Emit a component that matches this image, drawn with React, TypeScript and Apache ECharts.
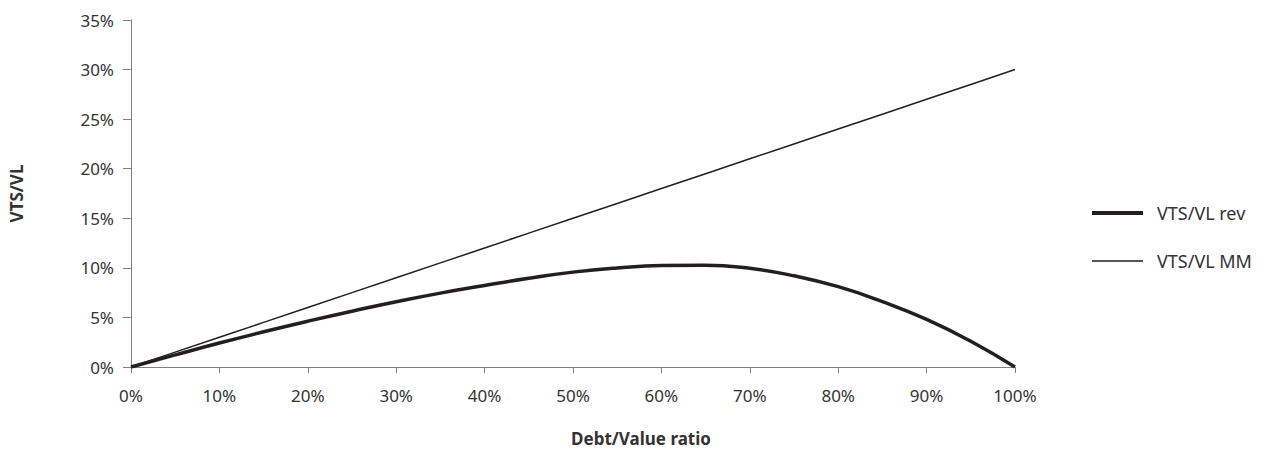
import React, { useEffect, useRef } from "react";
import * as echarts from "echarts";

const debtRatio = [0, 5, 10, 15, 20, 25, 30, 35, 40, 45, 50, 55, 60, 65, 70, 75, 80, 85, 90, 95, 100];
const vtsRev = [0, 1.22, 2.42, 3.55, 4.62, 5.63, 6.58, 7.45, 8.22, 8.95, 9.57, 9.99, 10.24, 10.27, 9.95, 9.2, 8.1, 6.6, 4.8, 2.6, 0];
const vtsMM = [0, 1.5, 3, 4.5, 6, 7.5, 9, 10.5, 12, 13.5, 15, 16.5, 18, 19.5, 21, 22.5, 24, 25.5, 27, 28.5, 30];

const FONT = "'Noto Sans', sans-serif";
const TXT = "#333333";
const LINE = "#231f20";

export default function App() {
  const ref = useRef<HTMLDivElement>(null);
  useEffect(() => {
    if (!ref.current) return;
    const chart = echarts.init(ref.current, undefined, { renderer: "svg" });
    chart.setOption({
      animation: false,
      backgroundColor: "#ffffff",
      textStyle: { fontFamily: FONT },
      title: {
        text: "Debt/Value ratio",
        left: 641,
        top: 427,
        padding: 0,
        textAlign: "center",
        textStyle: { fontFamily: FONT, fontSize: 17, fontWeight: "bold", color: TXT, lineHeight: 22 },
      },
      grid: { left: 125, right: 249, top: 20, bottom: 84, containLabel: false },
      legend: [
        {
          data: ["VTS/VL rev"],
          left: 1092,
          top: 202,
          padding: 0,
          icon: "rect",
          itemWidth: 51,
          itemHeight: 4,
          textStyle: { fontFamily: FONT, fontSize: 18, color: TXT, lineHeight: 22, padding: [0, 0, 0, 9] },
        },
        {
          data: ["VTS/VL MM"],
          left: 1092,
          top: 250,
          padding: 0,
          icon: "rect",
          itemWidth: 51,
          itemHeight: 1.5,
          textStyle: { fontFamily: FONT, fontSize: 18, color: TXT, lineHeight: 22, padding: [0, 0, 0, 9] },
        },
      ],
      xAxis: {
        type: "value",
        min: 0,
        max: 100,
        interval: 10,
        axisLine: { show: true, lineStyle: { color: "#808080", width: 1 } },
        axisTick: { show: true, length: 6, lineStyle: { color: "#808080" } },
        splitLine: { show: false },
        axisLabel: { formatter: "{value}%", fontFamily: FONT, fontSize: 17, color: TXT, margin: 20 },
      },
      yAxis: {
        type: "value",
        min: 0,
        max: 35,
        interval: 5,
        name: "VTS/VL",
        nameLocation: "middle",
        nameGap: 106,
        nameRotate: 90,
        nameTextStyle: { fontFamily: FONT, fontSize: 17, fontWeight: "bold", color: TXT },
        axisLine: { show: true, lineStyle: { color: "#808080", width: 1 } },
        axisTick: { show: true, length: 8, lineStyle: { color: "#808080" } },
        splitLine: { show: false },
        axisLabel: { formatter: "{value}%", fontFamily: FONT, fontSize: 17, color: TXT, margin: 17 },
      },
      series: [
        {
          name: "VTS/VL rev",
          type: "line",
          data: debtRatio.map((x, i) => [x, vtsRev[i]]),
          smooth: 0.5,
          symbol: "none",
          color: LINE,
          lineStyle: { color: LINE, width: 3.5 },
          z: 3,
        },
        {
          name: "VTS/VL MM",
          type: "line",
          data: debtRatio.map((x, i) => [x, vtsMM[i]]),
          symbol: "none",
          color: LINE,
          lineStyle: { color: LINE, width: 1.5 },
          z: 2,
        },
      ],
    });
    return () => chart.dispose();
  }, []);
  return (
    <div
      ref={ref}
      style={{ position: "fixed", left: 0, top: 0, width: 1264, height: 451, background: "#ffffff" }}
    />
  );
}
